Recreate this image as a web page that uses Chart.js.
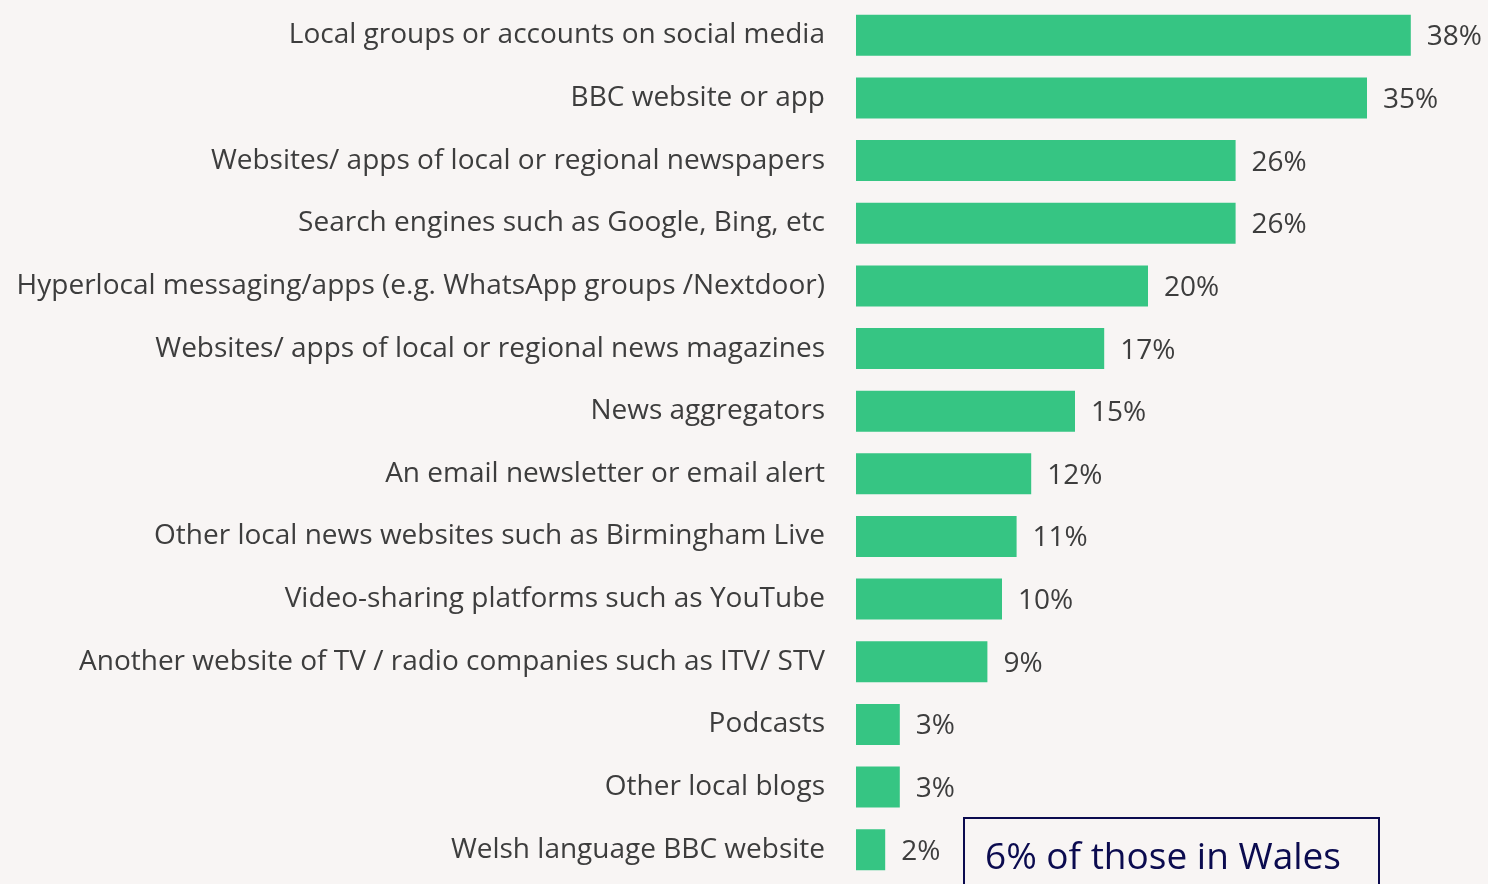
<!DOCTYPE html>
<html>
<head>
<meta charset="utf-8">
<script src="https://cdn.jsdelivr.net/npm/chart.js@4/dist/chart.umd.min.js"></script>
<style>
  html, body { margin: 0; padding: 0; background: #f8f5f4; overflow: hidden; }
  #wrap { position: relative; width: 1488px; height: 884px; }
  #note {
    position: absolute; left: 963px; top: 817px; width: 417px; height: 80px;
    border: 2px solid #0b0b4f; box-sizing: border-box;
    font-family: 'Open Sans', sans-serif; font-size: 37px; color: #0b0b4f;
    padding: 10px 0 0 20px; line-height: 52px; white-space: nowrap;
  }
</style>
</head>
<body>
<div id="wrap">
  <canvas id="sources" width="1488" height="884"></canvas>
  <div id="note">6% of those in Wales</div>
</div>
<script>
const categories = [
    'Local groups or accounts on social media',
    'BBC website or app',
    'Websites/ apps of local or regional newspapers',
    'Search engines such as Google, Bing, etc',
    'Hyperlocal messaging/apps (e.g. WhatsApp groups /Nextdoor)',
    'Websites/ apps of local or regional news magazines',
    'News aggregators',
    'An email newsletter or email alert',
    'Other local news websites such as Birmingham Live',
    'Video-sharing platforms such as YouTube',
    'Another website of TV / radio companies such as ITV/ STV',
    'Podcasts',
    'Other local blogs',
    'Welsh language BBC website'
];
const values = [38, 35, 26, 26, 20, 17, 15, 12, 11, 10, 9, 3, 3, 2];

// value labels at the end of each bar
const valueLabels = {
    id: 'valueLabels',
    afterDatasetsDraw(chart) {
        const ctx = chart.ctx;
        const meta = chart.getDatasetMeta(0);
        ctx.save();
        ctx.font = '28px "Open Sans", sans-serif';
        ctx.fillStyle = '#3d3d3d';
        ctx.textAlign = 'left';
        ctx.textBaseline = 'middle';
        meta.data.forEach((bar, i) => {
            ctx.fillText(values[i] + '%', bar.x + 16, bar.y + 2);
        });
        ctx.restore();
    }
};

var ctx = document.getElementById('sources').getContext('2d');
var sourcesChart = new Chart(ctx, {
    type: 'bar',
    data: {
        labels: categories,
        datasets: [{
            backgroundColor: '#36c583',
            data: values,
            barPercentage: 0.655,
            categoryPercentage: 1
        }]
    },
    options: {
        indexAxis: 'y',
        responsive: false,
        animation: false,
        layout: {
            padding: { top: 4, bottom: 3, right: 48 }
        },
        plugins: {
            legend: { display: false },
            tooltip: { enabled: false }
        },
        scales: {
            x: {
                display: false,
                min: 0,
                max: 40
            },
            y: {
                afterFit: scale => {
                    scale.width = 856;
                    scale.paddingTop = 0;
                    scale.paddingBottom = 0;
                },
                border: { display: false },
                grid: { display: false, drawTicks: false },
                ticks: {
                    padding: 31,
                    color: '#3d3d3d',
                    font: { family: '"Open Sans", sans-serif', size: 28 }
                }
            }
        }
    },
    plugins: [valueLabels]
});
</script>
</body>
</html>
